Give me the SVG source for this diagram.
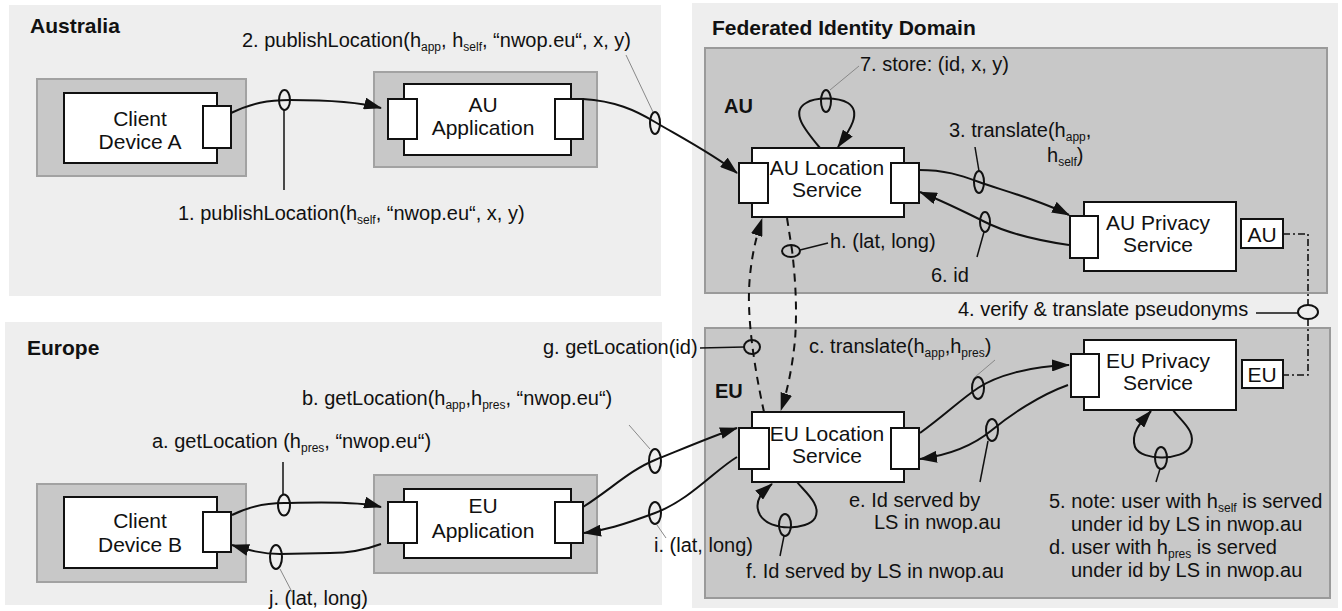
<svg xmlns="http://www.w3.org/2000/svg" width="1342" height="611" viewBox="0 0 1342 611">
  <defs>
    <style>
      text { font-family: "Liberation Sans", Arial, sans-serif; fill: #111; }
      .lbl { font-size: 20px; }
      .node { font-size: 21px; text-anchor: middle; }
      .head { font-size: 21px; font-weight: bold; }
      .dom { font-size: 20px; font-weight: bold; }
      .sub { font-size: 12px; }
      .region { fill: #eeeeee; stroke: none; }
      .domain { fill: #c8c8c8; stroke: #9a9a9a; stroke-width: 2; }
      .shell { fill: #c8c8c8; stroke: #a2a2a2; stroke-width: 2; }
      .box { fill: #ffffff; stroke: #111; stroke-width: 2; }
      .tag { fill: #ffffff; stroke: #111; stroke-width: 2; }
      .conn { fill: none; stroke: #111; stroke-width: 2; }
      .arr { marker-end: url(#head); }
      .dash { fill: none; stroke: #111; stroke-width: 2; stroke-dasharray: 8 6; }
      .dashdot { fill: none; stroke: #111; stroke-width: 1.6; stroke-dasharray: 7 3 2 3; }
      .ring { fill: none; stroke: #111; stroke-width: 2; }
      .lead { fill: none; stroke: #111; stroke-width: 1.5; }
      .leadg { fill: none; stroke: #888; stroke-width: 1; }
    </style>
    <marker id="head" markerUnits="userSpaceOnUse" markerWidth="18" markerHeight="12" refX="17" refY="6" orient="auto">
      <path d="M0,0 L18,6 L0,12 z" fill="#111"/>
    </marker>
  </defs>

  <!-- region panels -->
  <rect class="region" x="9" y="5" width="652" height="291"/>
  <rect class="region" x="5" y="322" width="657" height="283"/>
  <rect class="region" x="692" y="3" width="646" height="605"/>
  <rect class="domain" x="705" y="48" width="622" height="245"/>
  <rect class="domain" x="705" y="328" width="625" height="270"/>

  <text class="head" x="30" y="33">Australia</text>
  <text class="head" x="27" y="355">Europe</text>
  <text class="head" x="712" y="35">Federated Identity Domain</text>
  <text class="dom" x="724" y="113">AU</text>
  <text class="dom" x="715" y="398">EU</text>

  <!-- nodes -->
  <g id="client-a">
    <rect class="shell" x="37" y="79" width="209" height="97"/>
    <rect class="box" x="64" y="93" width="153" height="70"/>
    <rect class="box" x="203" y="106" width="28" height="42"/>
    <text class="node" x="140" y="126">Client</text>
    <text class="node" x="140" y="149">Device A</text>
  </g>

  <g id="au-app">
    <rect class="shell" x="374" y="72" width="223" height="95"/>
    <rect class="box" x="404" y="84" width="167" height="71"/>
    <rect class="box" x="388" y="99" width="29" height="40"/>
    <rect class="box" x="555" y="99" width="28" height="40"/>
    <text class="node" x="483" y="112">AU</text>
    <text class="node" x="483" y="135">Application</text>
  </g>

  <g id="au-location-service">
    <rect class="box" x="752" y="148" width="152" height="69"/>
    <rect class="box" x="739" y="163" width="29" height="40"/>
    <rect class="box" x="891" y="163" width="28" height="40"/>
    <text class="node" x="827" y="175">AU Location</text>
    <text class="node" x="827" y="197">Service</text>
  </g>

  <g id="au-privacy-service">
    <rect class="box" x="1084" y="202" width="152" height="69"/>
    <rect class="box" x="1070" y="216" width="28" height="42"/>
    <text class="node" x="1158" y="230">AU Privacy</text>
    <text class="node" x="1158" y="252">Service</text>
    <rect class="tag" x="1241" y="219" width="42" height="29"/>
    <text class="node" x="1262" y="242">AU</text>
  </g>

  <g id="eu-location-service">
    <rect class="box" x="752" y="412" width="152" height="70"/>
    <rect class="box" x="739" y="428" width="30" height="41"/>
    <rect class="box" x="891" y="428" width="28" height="41"/>
    <text class="node" x="827" y="441">EU Location</text>
    <text class="node" x="827" y="463">Service</text>
  </g>

  <g id="eu-privacy-service">
    <rect class="box" x="1084" y="340" width="152" height="70"/>
    <rect class="box" x="1071" y="354" width="28" height="43"/>
    <text class="node" x="1158" y="368">EU Privacy</text>
    <text class="node" x="1158" y="390">Service</text>
    <rect class="tag" x="1242" y="360" width="41" height="28"/>
    <text class="node" x="1262" y="382">EU</text>
  </g>

  <g id="client-b">
    <rect class="shell" x="37" y="484" width="209" height="98"/>
    <rect class="box" x="64" y="497" width="153" height="71"/>
    <rect class="box" x="203" y="512" width="28" height="40"/>
    <text class="node" x="140" y="528">Client</text>
    <text class="node" x="140" y="552">Device B</text>
  </g>

  <g id="eu-app">
    <rect class="shell" x="374" y="475" width="223" height="98"/>
    <rect class="box" x="404" y="489" width="167" height="69"/>
    <rect class="box" x="388" y="502" width="29" height="41"/>
    <rect class="box" x="555" y="502" width="28" height="41"/>
    <text class="node" x="483" y="513">EU</text>
    <text class="node" x="483" y="538">Application</text>
  </g>

  <!-- connectors, message rings and leader lines -->
  <g id="connectors">
    <!-- 1: client A to AU application -->
    <path class="conn arr" d="M231,113 C252,103 268,100 290,100 S352,100 381,108"/>
    <ellipse class="ring" cx="284.5" cy="100" rx="5.5" ry="10"/>
    <line class="lead" x1="284" y1="110" x2="284" y2="190"/>

    <!-- 2: AU application to AU location service -->
    <path class="conn arr" d="M583,99 C615,101 635,110 655,122 S715,155 737,173"/>
    <ellipse class="ring" cx="655" cy="123" rx="5" ry="11"/>
    <line class="leadg" x1="626" y1="55" x2="653" y2="112"/>

    <!-- 7: store loop -->
    <path class="conn arr" d="M820,148 C805,130 790,112 806,103 C815,97 838,97 848,103 C862,112 850,130 838,147"/>
    <ellipse class="ring" cx="826" cy="101" rx="5" ry="11"/>
    <line class="leadg" x1="830" y1="90" x2="859" y2="66"/>

    <!-- 3: translate -->
    <path class="conn arr" d="M919,170 C945,170 960,175 979,182 S1040,200 1069,215"/>
    <ellipse class="ring" cx="979" cy="182" rx="5" ry="11"/>
    <line class="lead" x1="975" y1="147" x2="979" y2="171"/>

    <!-- 6: id -->
    <path class="conn arr" d="M1069,245 C1035,240 1005,232 985,222 S940,200 920,192"/>
    <ellipse class="ring" cx="985" cy="222" rx="5" ry="10"/>
    <line class="lead" x1="984" y1="232" x2="977" y2="257"/>

    <!-- h: lat/long back to EU location service -->
    <path class="dash arr" d="M787,218 L792,250 Q798,300 795,340 Q791,380 781,410"/>
    <ellipse class="ring" cx="791" cy="251" rx="9" ry="6"/>
    <line class="lead" x1="800" y1="250" x2="828" y2="243"/>

    <!-- g: getLocation to AU location service -->
    <path class="dash arr" d="M764,412 C757,380 750,340 749,305 C748,270 755,240 762,219"/>
    <ellipse class="ring" cx="752" cy="347" rx="8" ry="7"/>
    <line class="lead" x1="700" y1="348" x2="744" y2="347"/>

    <!-- 4: pseudonym link between privacy services -->
    <path class="dashdot" d="M1283,234 L1308,234 L1308,305"/>
    <path class="dashdot" d="M1308,319 L1308,375 L1283,375"/>
    <ellipse class="ring" cx="1308" cy="312" rx="10" ry="7"/>
    <line class="lead" x1="1256" y1="313" x2="1298" y2="313"/>

    <!-- c: translate -->
    <path class="conn arr" d="M920,433 C945,415 960,400 978,388 S1030,366 1069,365"/>
    <ellipse class="ring" cx="978" cy="388" rx="6" ry="11"/>
    <line class="leadg" x1="995" y1="360" x2="975" y2="377"/>

    <!-- e: id served by -->
    <path class="conn arr" d="M1068,385 C1040,395 1010,415 992,430 S950,455 920,459"/>
    <ellipse class="ring" cx="992" cy="430" rx="6" ry="11"/>
    <line class="lead" x1="988" y1="441" x2="980" y2="482"/>

    <!-- f: loop at EU location service -->
    <path class="conn arr" d="M797,482 C805,492 822,505 815,518 C808,530 770,532 760,515 C752,500 765,490 772,484"/>
    <ellipse class="ring" cx="785" cy="525" rx="6" ry="11"/>
    <line class="lead" x1="784" y1="536" x2="780" y2="556"/>

    <!-- 5 / d: loop at EU privacy service -->
    <path class="conn arr" d="M1173,410 C1180,420 1198,432 1190,447 C1183,460 1142,462 1135,447 C1130,432 1143,420 1151,411"/>
    <ellipse class="ring" cx="1161" cy="458" rx="6" ry="11"/>
    <line class="lead" x1="1160" y1="469" x2="1156" y2="482"/>

    <!-- a: client B to EU application -->
    <path class="conn arr" d="M232,515 C250,506 265,503 284,503 S355,500 381,507"/>
    <ellipse class="ring" cx="284" cy="505" rx="6" ry="10.5"/>
    <line class="lead" x1="283" y1="462" x2="283" y2="494"/>

    <!-- j: lat/long back to client B -->
    <path class="conn arr" d="M381,544 C365,550 350,553 330,553 L280,554 C262,554 248,550 232,545"/>
    <ellipse class="ring" cx="276" cy="557" rx="6" ry="12"/>
    <line class="leadg" x1="280" y1="569" x2="292" y2="592"/>

    <!-- b: EU application to EU location service -->
    <path class="conn arr" d="M583,507 C610,490 630,470 655,460 S715,435 737,428"/>
    <ellipse class="ring" cx="655" cy="461" rx="6" ry="12"/>
    <line class="leadg" x1="650" y1="449" x2="629" y2="425"/>

    <!-- i: lat/long back to EU application -->
    <path class="conn arr" d="M737,457 C715,470 690,500 655,513 S605,530 584,533"/>
    <ellipse class="ring" cx="655" cy="513" rx="6" ry="11"/>
    <line class="leadg" x1="657" y1="525" x2="666" y2="538"/>
  </g>

  <!-- message labels -->
  <g id="labels">
    <text class="lbl" x="178" y="220">1. publishLocation(h<tspan class="sub" dy="4">self</tspan><tspan dy="-4">, “nwop.eu“, x, y)</tspan></text>
    <text class="lbl" x="242" y="47">2. publishLocation(h<tspan class="sub" dy="4">app</tspan><tspan dy="-4">, h</tspan><tspan class="sub" dy="4">self</tspan><tspan dy="-4">, “nwop.eu“, x, y)</tspan></text>
    <text class="lbl" x="860" y="71">7. store: (id, x, y)</text>
    <text class="lbl" x="949" y="137">3. translate(h<tspan class="sub" dy="4">app</tspan><tspan dy="-4">,</tspan></text>
    <text class="lbl" x="1047" y="162">h<tspan class="sub" dy="4">self</tspan><tspan dy="-4">)</tspan></text>
    <text class="lbl" x="830" y="248">h. (lat, long)</text>
    <text class="lbl" x="931" y="282">6. id</text>
    <text class="lbl" x="958" y="316">4. verify &amp; translate pseudonyms</text>
    <text class="lbl" x="543" y="354">g. getLocation(id)</text>
    <text class="lbl" x="809" y="353">c. translate(h<tspan class="sub" dy="4">app</tspan><tspan dy="-4">,h</tspan><tspan class="sub" dy="4">pres</tspan><tspan dy="-4">)</tspan></text>
    <text class="lbl" x="302" y="405">b. getLocation(h<tspan class="sub" dy="4">app</tspan><tspan dy="-4">,h</tspan><tspan class="sub" dy="4">pres</tspan><tspan dy="-4">, “nwop.eu“)</tspan></text>
    <text class="lbl" x="152" y="448">a. getLocation (h<tspan class="sub" dy="4">pres</tspan><tspan dy="-4">, “nwop.eu“)</tspan></text>
    <text class="lbl" x="849" y="507">e. Id served by</text>
    <text class="lbl" x="874" y="529">LS in nwop.au</text>
    <text class="lbl" x="654" y="552">i. (lat, long)</text>
    <text class="lbl" x="746" y="578">f. Id served by LS in nwop.au</text>
    <text class="lbl" x="269" y="605">j. (lat, long)</text>
    <text class="lbl" x="1049" y="508">5. note: user with h<tspan class="sub" dy="4">self</tspan><tspan dy="-4"> is served</tspan></text>
    <text class="lbl" x="1071" y="531">under id by LS in nwop.au</text>
    <text class="lbl" x="1049" y="554">d. user with h<tspan class="sub" dy="4">pres</tspan><tspan dy="-4"> is served</tspan></text>
    <text class="lbl" x="1071" y="577">under id by LS in nwop.au</text>
  </g>
</svg>
